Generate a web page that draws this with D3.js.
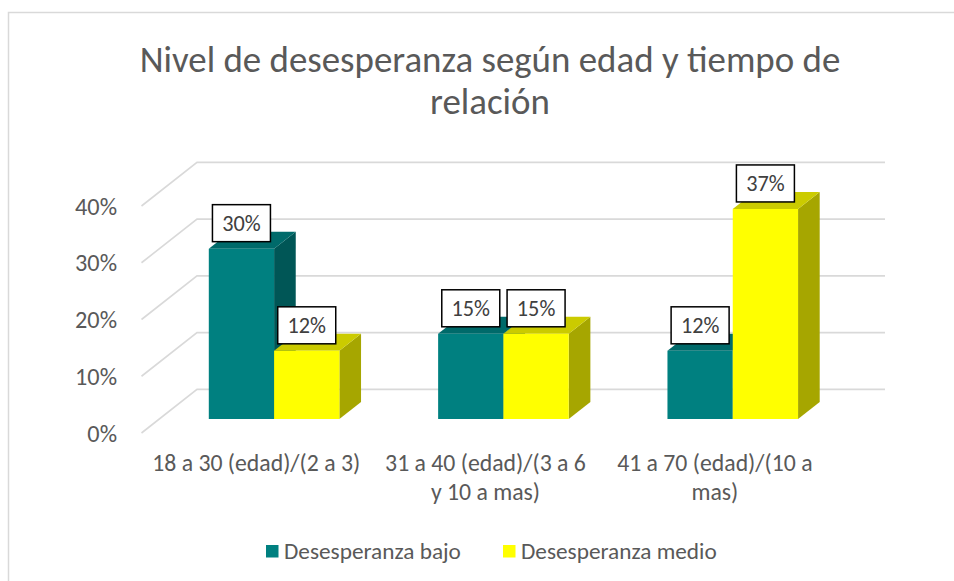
<!DOCTYPE html>
<html>
<head>
<meta charset="utf-8">
<script src="https://cdn.jsdelivr.net/npm/d3@7"></script>
<style>
  html, body { margin: 0; padding: 0; background: #fff; }
  svg { display: block; }
  text { font-family: Carlito, Calibri, Lato, "Open Sans", sans-serif; }
</style>
</head>
<body>
<div id="chart"></div>
<script>
// ---------- data ----------
const titleLines = ["Nivel de desesperanza según edad y tiempo de", "relación"];
const categories = ["18 a 30 (edad)/(2 a 3)", "31 a 40 (edad)/(3 a 6 y 10 a mas)", "41 a 70 (edad)/(10 a mas)"];
const categoryLines = [["18 a 30 (edad)/(2 a 3)"], ["31 a 40 (edad)/(3 a 6", "y 10 a mas)"], ["41 a 70 (edad)/(10 a", "mas)"]];
const seriesNames = ["Desesperanza bajo", "Desesperanza medio"];
const bajo = [0.30, 0.15, 0.12];
const medio = [0.12, 0.15, 0.37];
const yTicks = [0, 0.1, 0.2, 0.3, 0.4];
const yTickLabels = ["0%", "10%", "20%", "30%", "40%"];

// ---------- style ----------
const W = 954, H = 581;
const faceColors = [
  { front: "#008080", top: "#006a6a", side: "#005656" },
  { front: "#ffff00", top: "#cbcb00", side: "#a6a600" }
];
const textColor = "#595959";
const gridColor = "#d9d9d9";

const svg = d3.select("#chart").append("svg").attr("width", W).attr("height", H);
svg.append("rect").attr("width", W).attr("height", H).attr("fill", "#fff");
svg.append("rect").attr("x", 8.5).attr("y", 12.5).attr("width", W + 20).attr("height", H + 20)
  .attr("fill", "none").attr("stroke", gridColor).attr("stroke-width", 1.5);

// fit font size so that a reference string has a target width
function fitSize(str, target, base = 20, weight = 400) {
  const t = svg.append("text").attr("font-size", base).attr("font-weight", weight).text(str);
  const w = t.node().getComputedTextLength();
  t.remove();
  return base * target / w;
}

// ---------- geometry (oblique 3D projection) ----------
const X0 = 141.5, Y0 = 433;       // front-left floor corner
const DX = 55.5, DY = -43.6;       // depth vector (front -> back wall)
const plotW = 688;
const t0 = 0.323, t1 = 0.713;      // bar depth range (fraction of floor depth)

const x = d3.scaleBand().domain(categories).range([0, plotW]).paddingInner(0).paddingOuter(0);
const xs = d3.scaleBand().domain(seriesNames).range([0, x.bandwidth()]).paddingInner(0).paddingOuter(0.756);
const y = d3.scaleLinear().domain([0, 0.4]).range([0, -227]);

const P = (px, v, t) => [X0 + px + t * DX, Y0 + y(v) + t * DY];
const poly = pts => "M" + pts.map(p => p.join(",")).join("L") + "Z";

// ---------- gridlines ----------
const grid = svg.append("g");
yTicks.forEach(v => {
  const a = P(0, v, 0), b = P(0, v, 1), c = P(plotW, v, 1);
  grid.append("path").attr("d", `M${a}L${b}L${c}`)
    .attr("fill", "none").attr("stroke", gridColor).attr("stroke-width", 1.6);
});

// ---------- y axis labels ----------
const yFont = fitSize("40%", 42);
svg.append("g").selectAll("text").data(yTicks).join("text")
  .attr("x", 117).attr("y", v => P(0, v, 0)[1])
  .attr("dy", "0.35em").attr("text-anchor", "end")
  .attr("font-size", yFont).attr("fill", textColor)
  .text((v, i) => yTickLabels[i]);

// ---------- bars ----------
const seriesData = [bajo, medio];
const bars = svg.append("g");
categories.forEach((cat, ci) => {
  seriesNames.forEach((s, si) => {
    const v = seriesData[si][ci];
    const xl = x(cat) + xs(s), xr = xl + xs.bandwidth();
    const c = faceColors[si];
    const g = bars.append("g");
    g.append("path").attr("d", poly([P(xr, 0, t0), P(xr, 0, t1), P(xr, v, t1), P(xr, v, t0)])).attr("fill", c.side);
    g.append("path").attr("d", poly([P(xl, v, t0), P(xr, v, t0), P(xr, v, t1), P(xl, v, t1)])).attr("fill", c.top);
    g.append("path").attr("d", poly([P(xl, 0, t0), P(xr, 0, t0), P(xr, v, t0), P(xl, v, t0)])).attr("fill", c.front);
  });
});

// ---------- data labels ----------
const lblFont = fitSize("30%", 38.5);
const labels = svg.append("g");
categories.forEach((cat, ci) => {
  seriesNames.forEach((s, si) => {
    const v = seriesData[si][ci];
    const xl = x(cat) + xs(s), xr = xl + xs.bandwidth();
    const topL = P(xl, v, t0), topR = P(xr, v, t0);
    const cx = (topL[0] + topR[0]) / 2;
    const bw = 58, bh = 37;
    const by = topL[1] - 7 - bh;
    labels.append("rect").attr("x", cx - bw / 2).attr("y", by).attr("width", bw).attr("height", bh)
      .attr("fill", "#fff").attr("stroke", "#000").attr("stroke-width", 1.5);
    labels.append("text").attr("x", cx).attr("y", by + bh / 2).attr("dy", "0.36em")
      .attr("text-anchor", "middle").attr("font-size", lblFont).attr("fill", "#404040")
      .text(d3.format(".0%")(v));
  });
});

// ---------- category labels ----------
const catFont = fitSize(categoryLines[0][0], 208);
categories.forEach((cat, ci) => {
  const cx = X0 + x(cat) + x.bandwidth() / 2;
  const t = svg.append("text").attr("text-anchor", "middle").attr("font-size", catFont).attr("fill", textColor);
  categoryLines[ci].forEach((ln, li) => {
    t.append("tspan").attr("x", cx).attr("y", 471 + li * 28.5).text(ln);
  });
});

// ---------- title ----------
const titleFont = fitSize(titleLines[0], 701, 30, 300);
titleLines.forEach((ln, i) => {
  svg.append("text").attr("x", 490).attr("y", 72 + i * 41.5).attr("text-anchor", "middle")
    .attr("font-size", titleFont).attr("font-weight", 300).attr("fill", textColor).text(ln);
});

// ---------- legend ----------
const legFont = fitSize(seriesNames[0], 177);
const legX = [266, 503];
seriesNames.forEach((s, i) => {
  svg.append("rect").attr("x", legX[i]).attr("y", 545).attr("width", 12.5).attr("height", 12.5)
    .attr("fill", faceColors[i].front);
  svg.append("text").attr("x", legX[i] + 18).attr("y", 551).attr("dy", "0.36em")
    .attr("font-size", legFont).attr("fill", textColor).text(s);
});
</script>
</body>
</html>
